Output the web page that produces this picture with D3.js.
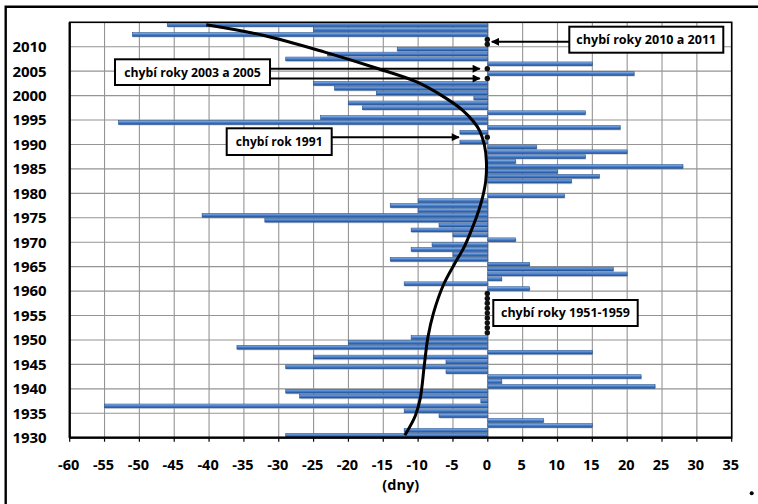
<!DOCTYPE html>
<html><head><meta charset="utf-8">
<script src="https://cdn.jsdelivr.net/npm/d3@7"></script>
<style>html,body{margin:0;padding:0;background:#fff;}svg{display:block;}</style>
</head><body><div id="chart"></div>
<script>
// ---- data ----
const years = [1930,1931,1932,1933,1934,1935,1936,1937,1938,1939,
  1940,1941,1942,1943,1944,1945,1946,1947,1948,1949,1950,
  1960,1961,1962,1963,1964,1965,1966,1967,1968,1969,
  1970,1971,1972,1973,1974,1975,1976,1977,1978,1979,
  1980,1981,1982,1983,1984,1985,1986,1987,1988,1989,
  1990,1992,1993,1994,1995,1996,1997,1998,1999,
  2000,2001,2002,2004,2006,2007,2008,2009,2012,2013,2014];
const values = [-29,-12,15,8,-7,-12,-55,-1,-27,-29,
  24,2,22,-6,-29,-6,-25,15,-36,-20,-11,
  6,-12,2,20,18,6,-14,-5,-11,-8,
  4,-5,-11,-7,-32,-41,-10,-14,-10,11,
  0,0,12,16,10,28,4,14,20,7,
  -4,-4,19,-53,-24,14,-18,-20,-2,
  -16,-22,-25,21,15,-29,-23,-13,-51,-25,-46];
const missingYears = [1951,1952,1953,1954,1955,1956,1957,1958,1959,1991,2003,2005,2010,2011];
const trendYears  = [1930.5,1934.5,1938,1945,1950.5,1955.5,1961.5,1965.5,1969,1973,1976.5,1979.5,1982.5,1986.5,1990,1992.9,1994.6,1997,2000,2002.8,2005.5,2008.9,2012.3,2014.5];
const trendValues = [-11.9,-10.4,-9.7,-9.1,-8.6,-7.8,-6.3,-4.8,-3.4,-2.2,-1.3,-0.7,-0.3,-0.2,-0.5,-1.2,-2.0,-3.6,-6.6,-10.2,-15.7,-23.4,-32.1,-40.4];
const xTickValues = [-60,-55,-50,-45,-40,-35,-30,-25,-20,-15,-10,-5,0,5,10,15,20,25,30,35];
const yTickValues = [1930,1935,1940,1945,1950,1955,1960,1965,1970,1975,1980,1985,1990,1995,2000,2005,2010];
const xAxisTitle = "(dny)";
const noteTexts = ["chybí roky 2010 a 2011","chybí roky 2003 a 2005","chybí rok 1991","chybí roky 1951-1959"];

// ---- layout ----
const W = 758, H = 504;
const x = d3.scaleLinear().domain([-60, 35]).range([69.7, 731.7]);
const y = d3.scaleLinear().domain([1930, 2015]).range([437.7, 22.3]);
const FONT = "'Open Sans', Lato, sans-serif";

const svg = d3.select("#chart").append("svg").attr("width", W).attr("height", H)
  .style("background", "#fff");

const defs = svg.append("defs");
const g = defs.append("linearGradient").attr("id","barGrad").attr("x1",0).attr("y1",0).attr("x2",0).attr("y2",1);
[[0,"#a9c9f2"],[0.3,"#5e93da"],[0.65,"#3b70c0"],[1,"#234f8c"]].forEach(([o,c])=>g.append("stop").attr("offset",o).attr("stop-color",c));
defs.append("marker").attr("id","arr").attr("viewBox","0 0 10 10").attr("refX",9).attr("refY",5)
  .attr("markerWidth",4.4).attr("markerHeight",4).attr("markerUnits","strokeWidth").attr("orient","auto")
  .append("path").attr("d","M0,0 L10,5 L0,10 Z").attr("fill","#000");

// outer frame
svg.append("path").attr("d",`M5.7,${H+5} L5.7,6.7 L${W+5},6.7`).attr("fill","none").attr("stroke","#000").attr("stroke-width",2.4);

// gridlines
svg.append("g").selectAll("line").data(xTickValues).join("line")
  .attr("x1",d=>x(d)).attr("x2",d=>x(d)).attr("y1",y(2015)).attr("y2",y(1930))
  .attr("stroke","#949494").attr("stroke-width",1.1);
svg.append("g").selectAll("line").data(yTickValues).join("line")
  .attr("x1",x(-60)).attr("x2",x(35)).attr("y1",d=>y(d)).attr("y2",d=>y(d))
  .attr("stroke","#949494").attr("stroke-width",1.1);

// bars
const bh = 3.8;
const bars = svg.append("g");
bars.selectAll("rect.sh").data(years).join("rect").attr("class","sh")
  .attr("x",(d,i)=>x(Math.min(0,values[i]))+0.8).attr("width",(d,i)=>Math.abs(x(values[i])-x(0)))
  .attr("y",d=>y(d+0.5)-bh/2+1.2).attr("height",bh).attr("fill","#b0b0b0").attr("opacity",0.5);
bars.selectAll("rect.b").data(years).join("rect").attr("class","b")
  .attr("x",(d,i)=>x(Math.min(0,values[i]))).attr("width",(d,i)=>Math.abs(x(values[i])-x(0)))
  .attr("y",d=>y(d+0.5)-bh/2).attr("height",bh).attr("fill","url(#barGrad)")
  .attr("stroke","#24518f").attr("stroke-width",(d,i)=>values[i]===0?0:0.6);

// plot border
svg.append("rect").attr("x",x(-60)).attr("y",y(2015)).attr("width",x(35)-x(-60)).attr("height",y(1930)-y(2015))
  .attr("fill","none").attr("stroke","#000").attr("stroke-width",1.6);
svg.append("line").attr("x1",x(-60)).attr("x2",x(-60)).attr("y1",y(2015)).attr("y2",y(1930)).attr("stroke","#000").attr("stroke-width",2.2);
svg.append("line").attr("x1",x(-60)).attr("x2",x(35)).attr("y1",y(1930)).attr("y2",y(1930)).attr("stroke","#000").attr("stroke-width",2.2);

// x axis ticks and labels
svg.append("g").selectAll("line").data(xTickValues).join("line")
  .attr("x1",d=>x(d)).attr("x2",d=>x(d)).attr("y1",y(1930)).attr("y2",y(1930)+4)
  .attr("stroke","#000").attr("stroke-width",1.2);
svg.append("g").selectAll("text").data(xTickValues).join("text")
  .attr("x",d=>x(d)-1).attr("y",470).attr("text-anchor","middle")
  .attr("font-family",FONT).attr("font-weight","bold").attr("font-size",14.5).text(d=>d);
svg.append("text").attr("x",(x(-60)+x(35))/2).attr("y",490).attr("text-anchor","middle")
  .attr("font-family",FONT).attr("font-weight","bold").attr("font-size",14.5).text(xAxisTitle);

// y labels
svg.append("g").selectAll("text").data(yTickValues).join("text")
  .attr("x",46.7).attr("y",d=>y(d)).attr("dy","0.36em").attr("text-anchor","end")
  .attr("font-family",FONT).attr("font-weight","bold").attr("font-size",15).text(d=>d);

// missing-year dots
svg.append("g").selectAll("circle").data(missingYears).join("circle")
  .attr("cx",x(0)-0.5).attr("cy",d=>y(d+0.5)).attr("r",2.7).attr("fill","#111");

// trend curve
const line = d3.line().x(d=>x(d[1])).y(d=>y(d[0])).curve(d3.curveCatmullRom.alpha(0.5));
svg.append("path").datum(trendYears.map((t,i)=>[t,trendValues[i]])).attr("d",line)
  .attr("fill","none").attr("stroke","#000").attr("stroke-width",3);

// arrows
function arrow(x1,y1,x2,y2){
  svg.append("line").attr("x1",x1).attr("y1",y1).attr("x2",x2).attr("y2",y2)
    .attr("stroke","#000").attr("stroke-width",2).attr("marker-end","url(#arr)");
}
arrow(569.3, y(2011), x(0)+4, y(2011));
arrow(270, y(2005.5), x(0)-8, y(2005.5));
arrow(270, y(2003.5), x(0)-8, y(2003.5));
arrow(331.7, y(1991.5), x(-4)-1, y(1991.5));

// note boxes
const boxes = [
  {x0:569.3, y0:26.7, x1:723.3, y1:52.7, w:140},
  {x0:115,   y0:59.3, x1:270,   y1:85,   w:136.7},
  {x0:226.7, y0:128.3,x1:331.7, y1:155,  w:86.7},
  {x0:493.3, y0:300,  x1:637.7, y1:326,  w:129}
];
boxes.forEach((b,i)=>{
  svg.append("rect").attr("x",b.x0).attr("y",b.y0).attr("width",b.x1-b.x0).attr("height",b.y1-b.y0)
    .attr("fill","#fff").attr("stroke","#000").attr("stroke-width",2);
  svg.append("text").attr("x",(b.x0+b.x1)/2).attr("y",(b.y0+b.y1)/2).attr("dy","0.35em")
    .attr("text-anchor","middle").attr("font-family",FONT).attr("font-weight","bold").attr("font-size",12.5)
    .attr("textLength",b.w).attr("lengthAdjust","spacingAndGlyphs").text(noteTexts[i]);
});

// stray marker bottom-right
svg.append("circle").attr("cx",751.7).attr("cy",493.3).attr("r",2).attr("fill","#000");
</script></body></html>
